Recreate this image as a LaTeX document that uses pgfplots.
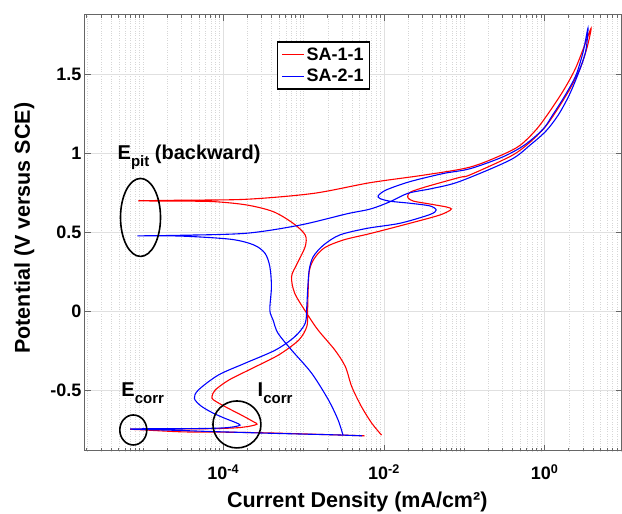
\documentclass[border=0pt]{standalone}
\usepackage{fontspec}
\setmainfont{Liberation Sans}
\usepackage{pgfplots}
\pgfplotsset{compat=1.18}
\newcommand{\sub}[1]{\raisebox{-0.32em}{\fontsize{15}{15}\selectfont #1}}
\begin{document}
\begin{tikzpicture}
\begin{axis}[
    width=537pt, height=436pt, scale only axis,
    xmode=log,
    xmin=1.9e-6, xmax=9.2,
    ymin=-0.886, ymax=1.873,
    xtick={1e-4,1e-2,1},
    xticklabels={10\textsuperscript{-4},10\textsuperscript{-2},10\textsuperscript{0}},
    minor xtick={2e-6,3e-6,4e-6,5e-6,6e-6,7e-6,8e-6,9e-6,
                 1e-5,2e-5,3e-5,4e-5,5e-5,6e-5,7e-5,8e-5,9e-5,
                 2e-4,3e-4,4e-4,5e-4,6e-4,7e-4,8e-4,9e-4,
                 1e-3,2e-3,3e-3,4e-3,5e-3,6e-3,7e-3,8e-3,9e-3,
                 2e-2,3e-2,4e-2,5e-2,6e-2,7e-2,8e-2,9e-2,
                 1e-1,2e-1,3e-1,4e-1,5e-1,6e-1,7e-1,8e-1,9e-1,
                 2,3,4,5,6,7,8,9},
    ytick={-0.5,0,0.5,1,1.5},
    yticklabels={-0.5,0,0.5,1,1.5},
    xmajorgrids, ymajorgrids, xminorgrids,
    major grid style={black!12, line width=0.6pt},
    minor grid style={black!16, dotted, line width=0.5pt},
    tick style={black!60, line width=0.7pt},
    major tick length=6pt, minor tick length=3pt,
    axis line style={black!60, line width=1pt},
    ticklabel style={font=\fontsize{18}{20}\selectfont\bfseries},
    xticklabel style={yshift=-10pt},
    xlabel={Current Density (mA/cm²)},
    ylabel={Potential (V versus SCE)},
    label style={font=\fontsize{21.5}{24}\selectfont\bfseries},
    xlabel style={at={(axis description cs:0.507,-0.1307)}, anchor=base},
    ylabel style={at={(axis description cs:-0.113,0.511)}, anchor=center},
    legend style={at={(0.3575,0.94)}, anchor=north west, draw=black,
        line width=1.5pt, font=\fontsize{18}{20}\selectfont\bfseries,
        inner xsep=4pt, inner ysep=4pt, row sep=3pt, cells={anchor=west}},
    legend image code/.code={\draw[#1, line width=1pt] (0pt,0pt) -- (22pt,0pt);},
]
% SA-1-1: forward scan from the cathodic end, then reverse scan
\addplot[color=red, draw=red, line width=1.1pt, smooth, tension=0.5] coordinates {
(5.75e-3,-0.790) (2.51e-3,-0.784) (1.00e-3,-0.778) (3.98e-4,-0.772)
(1.58e-4,-0.768) (6.31e-5,-0.766) (3.16e-5,-0.765) (1.58e-5,-0.758)
(1.00e-5,-0.752) (6.92e-6,-0.748)
(1.26e-5,-0.747) (3.16e-5,-0.746) (6.31e-5,-0.745) (1.00e-4,-0.743)
(1.58e-4,-0.738) (2.19e-4,-0.728) (2.63e-4,-0.716) (2.40e-4,-0.702)
(1.70e-4,-0.660) (1.05e-4,-0.605) (7.59e-5,-0.563) (7.24e-5,-0.542)
(7.94e-5,-0.500) (1.175e-4,-0.437) (2.29e-4,-0.363) (4.90e-4,-0.278)
(8.71e-4,-0.184) (1.096e-3,-0.099) (1.12e-3,-0.015) (1.135e-3,0.10)
(1.175e-3,0.25) (1.35e-3,0.33) (1.82e-3,0.40) (3.16e-3,0.45)
(6.76e-3,0.49) (1.74e-2,0.544) (4.47e-2,0.60) (6.03e-2,0.625)
(6.92e-2,0.645) (6.03e-2,0.658) (3.72e-2,0.677) (2.34e-2,0.695)
(2.00e-2,0.715) (2.00e-2,0.735) (2.19e-2,0.755) (3.39e-2,0.787)
(8.71e-2,0.845) (0.1175,0.861) (0.380,0.98) (0.631,1.06)
(1.00,1.16) (1.38,1.26) (2.04,1.40) (2.75,1.53) (3.39,1.67) (3.80,1.79)
(3.09,1.67) (2.40,1.53) (1.74,1.40) (1.148,1.26) (0.794,1.15)
(0.501,1.05) (0.302,0.99) (0.1175,0.91) (3.16e-2,0.86) (6.76e-3,0.812)
(1.32e-3,0.744) (1.95e-4,0.707) (2.95e-5,0.701) (8.71e-6,0.697)
(2.51e-5,0.6955) (7.59e-5,0.692) (1.95e-4,0.671) (4.17e-4,0.629)
(7.41e-4,0.555) (1.047e-3,0.481) (1.047e-3,0.407) (8.32e-4,0.30)
(7.08e-4,0.217) (7.76e-4,0.112) (1.096e-3,-0.015) (1.51e-3,-0.12)
(2.45e-3,-0.247) (3.31e-3,-0.352) (3.98e-3,-0.479) (5.25e-3,-0.605)
(7.08e-3,-0.711) (9.33e-3,-0.785)
};
\addlegendentry{SA-1-1}
% SA-2-1
\addplot[color=blue, draw=blue, line width=1.1pt, smooth, tension=0.5] coordinates {
(5.37e-3,-0.790) (2.51e-3,-0.784) (1.00e-3,-0.779) (3.98e-4,-0.774)
(1.58e-4,-0.768) (6.31e-5,-0.762) (2.51e-5,-0.755) (1.00e-5,-0.750)
(6.92e-6,-0.747)
(1.26e-5,-0.745) (3.16e-5,-0.745) (6.31e-5,-0.743) (1.00e-4,-0.740)
(1.35e-4,-0.733) (1.62e-4,-0.722) (1.41e-4,-0.705) (1.00e-4,-0.675)
(7.08e-5,-0.640) (5.25e-5,-0.600) (4.37e-5,-0.553) (4.90e-5,-0.500)
(8.71e-5,-0.405) (1.86e-4,-0.331) (4.47e-4,-0.247) (7.76e-4,-0.163)
(1.047e-3,-0.078) (1.096e-3,0.027) (1.12e-3,0.12) (1.175e-3,0.26)
(1.32e-3,0.344) (1.78e-3,0.418) (2.82e-3,0.481) (6.17e-3,0.523)
(1.58e-2,0.555) (3.72e-2,0.610) (4.47e-2,0.639) (3.72e-2,0.665)
(2.09e-2,0.682) (1.175e-2,0.695) (8.91e-3,0.712) (8.51e-3,0.730)
(1.07e-2,0.766) (2.09e-2,0.818) (5.50e-2,0.870) (0.1175,0.900)
(0.302,0.975) (0.562,1.05) (0.955,1.15) (1.26,1.24) (1.78,1.36)
(2.45,1.49) (3.02,1.64) (3.47,1.79)
(3.24,1.64) (2.57,1.49) (2.00,1.36) (1.48,1.24) (1.047,1.14)
(0.661,1.05) (0.372,0.955) (8.71e-2,0.819) (3.98e-2,0.775)
(2.00e-2,0.745) (1.175e-2,0.690) (6.76e-3,0.645) (3.47e-3,0.615)
(9.12e-4,0.544) (1.95e-4,0.492) (2.95e-5,0.479) (8.51e-6,0.475)
(2.95e-5,0.474) (1.23e-4,0.454) (2.40e-4,0.418) (3.31e-4,0.365)
(3.80e-4,0.281) (3.98e-4,0.154) (3.80e-4,0.006) (4.17e-4,-0.057)
(4.79e-4,-0.140) (7.08e-4,-0.247) (1.26e-3,-0.394) (2.04e-3,-0.563)
(2.69e-3,-0.690) (3.09e-3,-0.785)
};
\addlegendentry{SA-2-1}
% annotations
\draw[black, line width=1.6pt] (axis cs:9.33e-6,0.592) ellipse [x radius=20pt, y radius=39pt];
\draw[black, line width=1.6pt] (axis cs:7.59e-6,-0.753) ellipse [x radius=13.5pt, y radius=15pt];
\draw[black, line width=1.6pt] (axis cs:1.48e-4,-0.718) ellipse [x radius=24pt, y radius=23.5pt];
\node[anchor=base west, font=\fontsize{20}{22}\selectfont\bfseries, inner sep=0pt]
  at (axis cs:4.82e-6,0.956) {E\sub{pit} (backward)};
\node[anchor=base west, font=\fontsize{20}{22}\selectfont\bfseries, inner sep=0pt]
  at (axis cs:5.37e-6,-0.542) {E\sub{corr}};
\node[anchor=base west, font=\fontsize{20}{22}\selectfont\bfseries, inner sep=0pt]
  at (axis cs:2.67e-4,-0.542) {I\sub{corr}};
\coordinate (BL) at (rel axis cs:0,0);
\coordinate (TR) at (rel axis cs:1,1);
\end{axis}
\pgfresetboundingbox
\path ([shift={(-85pt,-63pt)}]BL) rectangle ([shift={(0pt,15pt)}]TR);
\end{tikzpicture}
\end{document}
